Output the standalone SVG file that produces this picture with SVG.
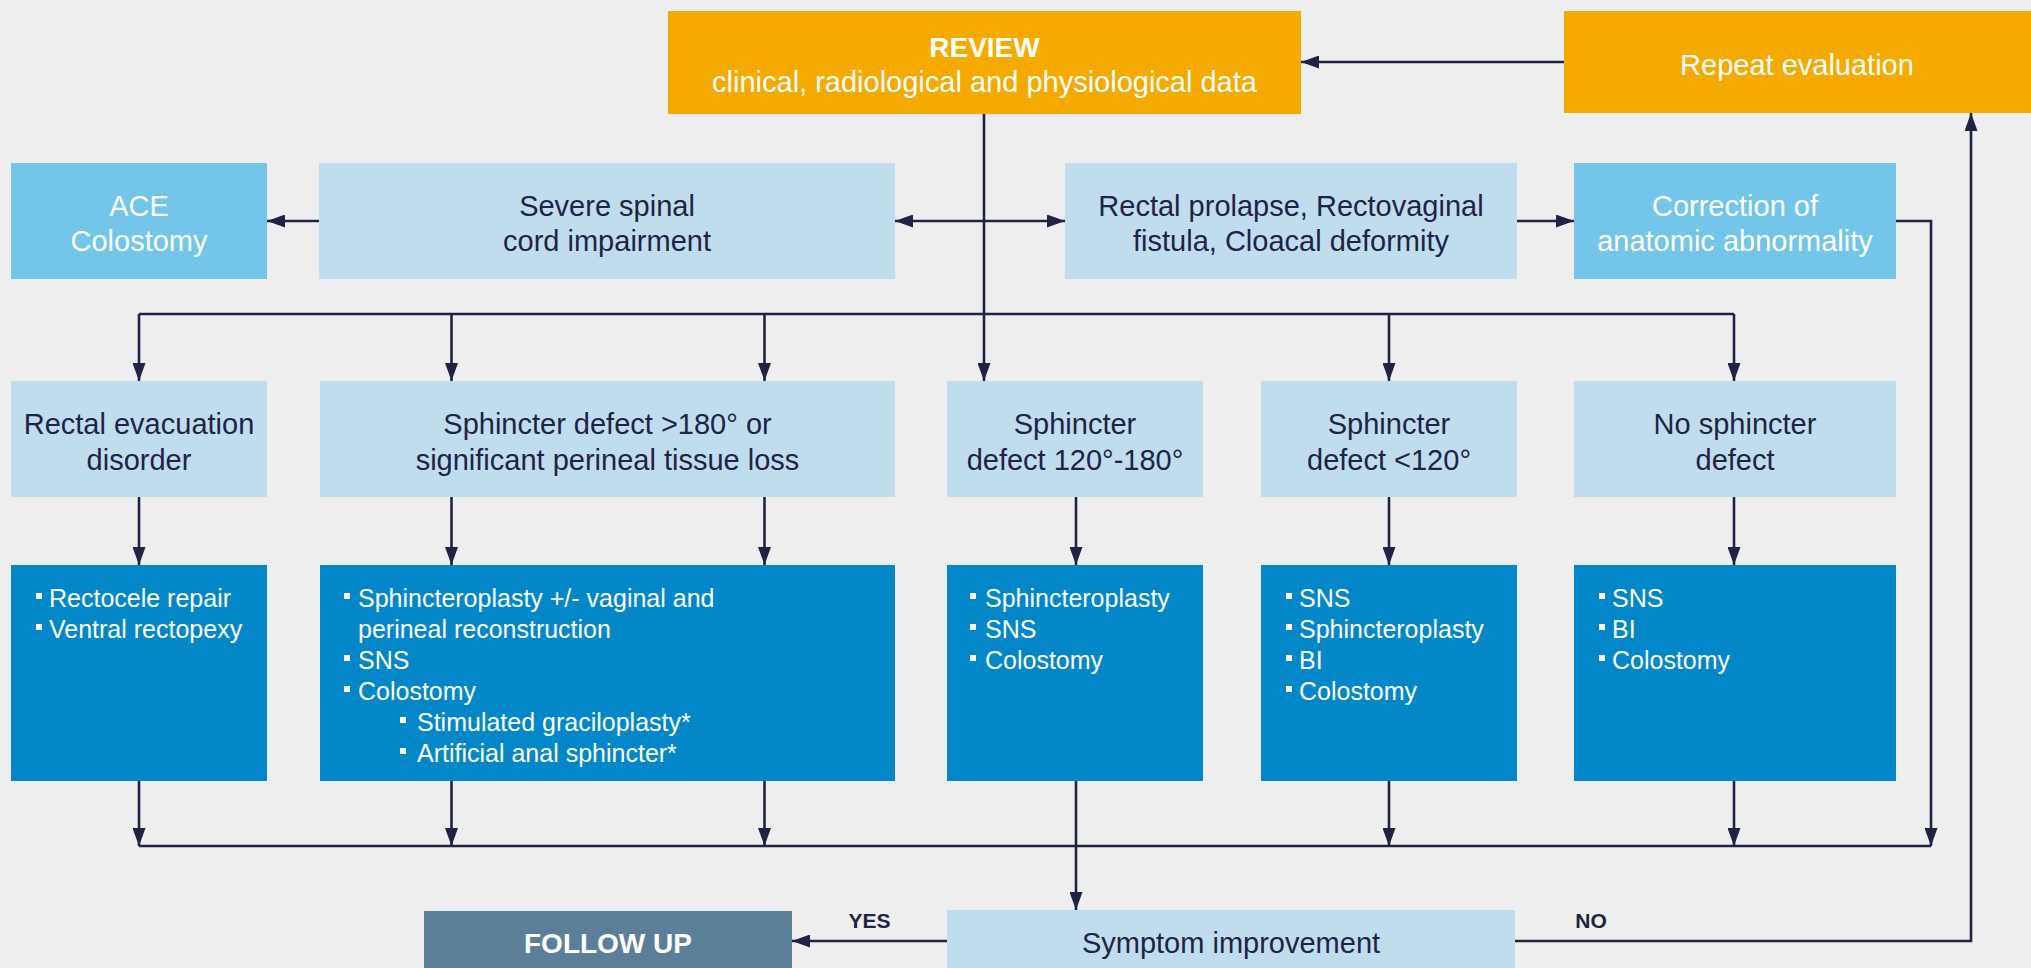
<svg xmlns="http://www.w3.org/2000/svg" width="2031" height="968" viewBox="0 0 2031 968">
<style>
text{font-family:"Liberation Sans",Arial,sans-serif;}
.h{font-size:29px;text-anchor:middle;}
.dk{fill:#1f2346;}
.wh{fill:#ffffff;}
.b{font-size:25px;fill:#ffffff;}
.bold{font-weight:bold;}
.lbl{font-size:21px;font-weight:bold;fill:#1f2346;text-anchor:middle;}
.org{fill:#f4aa00;}
.lb{fill:#c0ddee;}
.mb{fill:#73c5ea;}
.db{fill:#0487c8;}
.fu{fill:#5b7f99;}
.bul{fill:#ffffff;}
.ln{fill:none;stroke:#1f2346;stroke-width:2.6;}
</style>
<defs>
<marker id="ah" viewBox="0 0 18 13" refX="18" refY="6.5" markerWidth="18" markerHeight="13" markerUnits="userSpaceOnUse" orient="auto-start-reverse">
<path d="M0,0 L18,6.5 L0,13 z" fill="#1f2346"/>
</marker>
</defs>
<rect x="0" y="0" width="2031" height="968" fill="#eeeeee"/>

<g id="connectors">
<path class="ln" d="M1564,62 H1301" marker-end="url(#ah)"/>
<path class="ln" d="M984,114 V381" marker-end="url(#ah)"/>
<path class="ln" d="M319,221 H267" marker-end="url(#ah)"/>
<path class="ln" d="M895,221 H1065" marker-start="url(#ah)" marker-end="url(#ah)"/>
<path class="ln" d="M1517,221 H1574" marker-end="url(#ah)"/>
<path class="ln" d="M1896,221 H1931 V846" marker-end="url(#ah)"/>
<path class="ln" d="M139,314 H1734"/>
<path class="ln" d="M139,314 V381" marker-end="url(#ah)"/>
<path class="ln" d="M451.5,314 V381" marker-end="url(#ah)"/>
<path class="ln" d="M764.5,314 V381" marker-end="url(#ah)"/>
<path class="ln" d="M1389,314 V381" marker-end="url(#ah)"/>
<path class="ln" d="M1734,314 V381" marker-end="url(#ah)"/>
<path class="ln" d="M139,497 V565" marker-end="url(#ah)"/>
<path class="ln" d="M451.5,497 V565" marker-end="url(#ah)"/>
<path class="ln" d="M764.5,497 V565" marker-end="url(#ah)"/>
<path class="ln" d="M1076,497 V565" marker-end="url(#ah)"/>
<path class="ln" d="M1389,497 V565" marker-end="url(#ah)"/>
<path class="ln" d="M1734,497 V565" marker-end="url(#ah)"/>
<path class="ln" d="M139,846 H1931"/>
<path class="ln" d="M139,781 V846" marker-end="url(#ah)"/>
<path class="ln" d="M451.5,781 V846" marker-end="url(#ah)"/>
<path class="ln" d="M764.5,781 V846" marker-end="url(#ah)"/>
<path class="ln" d="M1389,781 V846" marker-end="url(#ah)"/>
<path class="ln" d="M1734,781 V846" marker-end="url(#ah)"/>
<path class="ln" d="M1076,781 V910" marker-end="url(#ah)"/>
<path class="ln" d="M947,941 H792" marker-end="url(#ah)"/>
<path class="ln" d="M1515,941 H1971 V113" marker-end="url(#ah)"/>
<text class="lbl" x="869.5" y="928">YES</text>
<text class="lbl" x="1591" y="928">NO</text>
</g>

<g id="review">
<rect class="org" x="668" y="11" width="633" height="103"/>
<text class="h wh bold" x="984.5" y="57" style="font-size:28px">REVIEW</text>
<text class="h wh" x="984.5" y="92">clinical, radiological and physiological data</text>
</g>
<g id="repeat">
<rect class="org" x="1564" y="11" width="467" height="102"/>
<text class="h wh" x="1797" y="75">Repeat evaluation</text>
</g>
<g id="ace">
<rect class="mb" x="11" y="163" width="256" height="116"/>
<text class="h wh" x="139" y="216">ACE</text>
<text class="h wh" x="139" y="251">Colostomy</text>
</g>
<g id="spinal">
<rect class="lb" x="319" y="163" width="576" height="116"/>
<text class="h dk" x="607" y="216">Severe spinal</text>
<text class="h dk" x="607" y="251">cord impairment</text>
</g>
<g id="prolapse">
<rect class="lb" x="1065" y="163" width="452" height="116"/>
<text class="h dk" x="1291" y="216">Rectal prolapse, Rectovaginal</text>
<text class="h dk" x="1291" y="251">fistula, Cloacal deformity</text>
</g>
<g id="correction">
<rect class="mb" x="1574" y="163" width="322" height="116"/>
<text class="h wh" x="1735" y="216">Correction of</text>
<text class="h wh" x="1735" y="251">anatomic abnormality</text>
</g>

<g id="evac">
<rect class="lb" x="11" y="381" width="256" height="116"/>
<text class="h dk" x="139" y="434">Rectal evacuation</text>
<text class="h dk" x="139" y="470">disorder</text>
</g>
<g id="def180">
<rect class="lb" x="320" y="381" width="575" height="116"/>
<text class="h dk" x="607.5" y="434">Sphincter defect &gt;180° or</text>
<text class="h dk" x="607.5" y="470">significant perineal tissue loss</text>
</g>
<g id="def120180">
<rect class="lb" x="947" y="381" width="256" height="116"/>
<text class="h dk" x="1075" y="434">Sphincter</text>
<text class="h dk" x="1075" y="470">defect 120°-180°</text>
</g>
<g id="def120">
<rect class="lb" x="1261" y="381" width="256" height="116"/>
<text class="h dk" x="1389" y="434">Sphincter</text>
<text class="h dk" x="1389" y="470">defect &lt;120°</text>
</g>
<g id="nodef">
<rect class="lb" x="1574" y="381" width="322" height="116"/>
<text class="h dk" x="1735" y="434">No sphincter</text>
<text class="h dk" x="1735" y="470">defect</text>
</g>

<g id="tx-evac">
<rect class="db" x="11" y="565" width="256" height="216"/>
<rect class="bul" x="36" y="593" width="6" height="6"/>
<text class="b" x="49" y="607">Rectocele repair</text>
<rect class="bul" x="36" y="624" width="6" height="6"/>
<text class="b" x="49" y="638">Ventral rectopexy</text>
</g>
<g id="tx-180">
<rect class="db" x="320" y="565" width="575" height="216"/>
<rect class="bul" x="344" y="593" width="6" height="6"/>
<text class="b" x="358" y="607">Sphincteroplasty +/- vaginal and</text>
<text class="b" x="358" y="638">perineal reconstruction</text>
<rect class="bul" x="344" y="655" width="6" height="6"/>
<text class="b" x="358" y="669">SNS</text>
<rect class="bul" x="344" y="686" width="6" height="6"/>
<text class="b" x="358" y="700">Colostomy</text>
<rect class="bul" x="400" y="717" width="6" height="6"/>
<text class="b" x="417" y="731">Stimulated graciloplasty*</text>
<rect class="bul" x="400" y="748" width="6" height="6"/>
<text class="b" x="417" y="762">Artificial anal sphincter*</text>
</g>
<g id="tx-120180">
<rect class="db" x="947" y="565" width="256" height="216"/>
<rect class="bul" x="970" y="593" width="6" height="6"/>
<text class="b" x="985" y="607">Sphincteroplasty</text>
<rect class="bul" x="970" y="624" width="6" height="6"/>
<text class="b" x="985" y="638">SNS</text>
<rect class="bul" x="970" y="655" width="6" height="6"/>
<text class="b" x="985" y="669">Colostomy</text>
</g>
<g id="tx-120">
<rect class="db" x="1261" y="565" width="256" height="216"/>
<rect class="bul" x="1286" y="593" width="6" height="6"/>
<text class="b" x="1299" y="607">SNS</text>
<rect class="bul" x="1286" y="624" width="6" height="6"/>
<text class="b" x="1299" y="638">Sphincteroplasty</text>
<rect class="bul" x="1286" y="655" width="6" height="6"/>
<text class="b" x="1299" y="669">BI</text>
<rect class="bul" x="1286" y="686" width="6" height="6"/>
<text class="b" x="1299" y="700">Colostomy</text>
</g>
<g id="tx-nodef">
<rect class="db" x="1574" y="565" width="322" height="216"/>
<rect class="bul" x="1599" y="593" width="6" height="6"/>
<text class="b" x="1612" y="607">SNS</text>
<rect class="bul" x="1599" y="624" width="6" height="6"/>
<text class="b" x="1612" y="638">BI</text>
<rect class="bul" x="1599" y="655" width="6" height="6"/>
<text class="b" x="1612" y="669">Colostomy</text>
</g>

<g id="followup">
<rect class="fu" x="424" y="911" width="368" height="60"/>
<text class="h wh bold" x="608" y="953" style="font-size:28px">FOLLOW UP</text>
</g>
<g id="symptom">
<rect class="lb" x="947" y="910" width="568" height="61"/>
<text class="h dk" x="1231" y="953">Symptom improvement</text>
</g>
</svg>
